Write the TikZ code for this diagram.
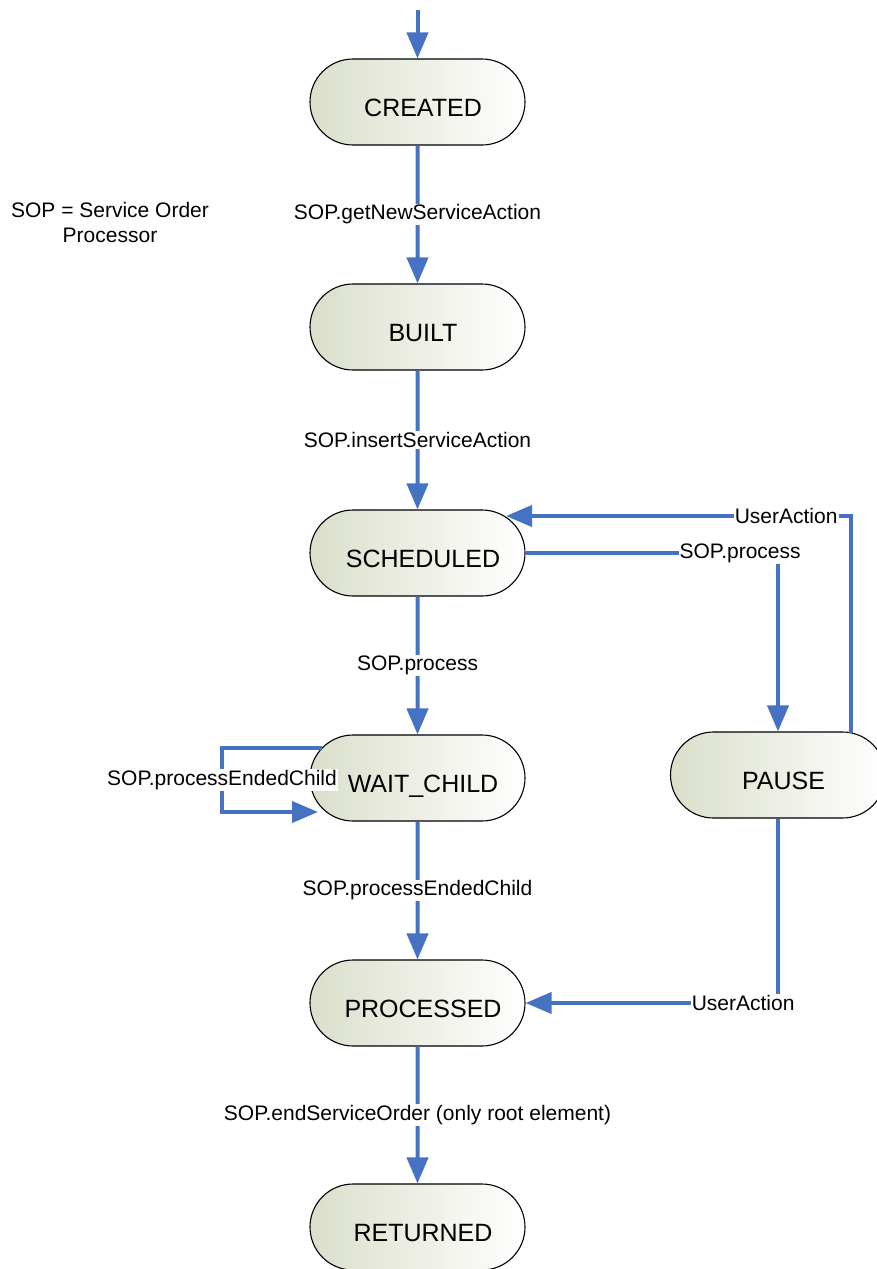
\documentclass[tikz,border=0pt]{standalone}
\usepackage{fontspec}
\setmainfont{Liberation Sans}
\usetikzlibrary{shapes.misc,arrows.meta}
\definecolor{flow}{RGB}{70,114,196}
\definecolor{stateleft}{RGB}{218,223,203}
\tikzset{
  state/.style={rounded rectangle, draw=black, line width=1.1pt,
    minimum width=215pt, minimum height=86pt, inner sep=0pt,
    left color=stateleft, right color=white,
    font=\fontsize{25}{30}\selectfont, text height=28pt, text depth=0pt,
    execute at begin node={\hspace*{11pt}}},
  arr/.style={draw=flow, line width=4pt, -{Triangle[length=26pt,width=21pt]}},
  lbl/.style={fill=white, inner sep=1pt, font=\fontsize{21}{25}\selectfont, text=black}
}
\begin{document}
\begin{tikzpicture}[x=1pt,y=-1pt]
\useasboundingbox (0,0) rectangle (876,1269);

% states
\node[state] (created)   at (417.5,102)  {CREATED};
\node[state] (built)     at (417.5,327)  {BUILT};
\node[state] (scheduled) at (417.5,553)  {SCHEDULED};
\node[state] (waitchild) at (417.5,778)  {WAIT\_CHILD};
\node[state] (processed) at (417.5,1003) {PROCESSED};
\node[state] (returned)  at (417.5,1227) {RETURNED};
\node[state] (pause)     at (778,775)    {PAUSE};

% legend
\node[align=center, font=\fontsize{21}{25}\selectfont] (legend) at (110,222) {SOP = Service Order\\Processor};

% helper coordinates
\coordinate (start) at (417.5,10);
\coordinate (schin) at (506,516);
\coordinate (pauseout) at (851,733);
\coordinate (wcout) at (322,748);
\coordinate (wcin) at (318,812);
\coordinate (loopA) at (222,748);
\coordinate (loopB) at (222,812);

% main chain
\draw[arr] (start) -- (created);
\draw[arr] (created) -- node[lbl] {SOP.getNewServiceAction} (built);
\draw[arr] (built) -- node[lbl] {SOP.insertServiceAction} (scheduled);
\draw[arr] (scheduled) -- node[lbl] {SOP.process} (waitchild);
\draw[arr] (waitchild) -- node[lbl] {SOP.processEndedChild} (processed);
\draw[arr] (processed) -- node[lbl] {SOP.endServiceOrder (only root element)} (returned);

% pause branch
\draw[arr] (scheduled.east) -| node[lbl, pos=0.425] {SOP.process} (pause.north);
\draw[arr] (pauseout) |- node[lbl, pos=0.594] {UserAction} (schin);
\draw[arr] (pause.south) |- node[lbl, pos=0.569] {UserAction} (processed.east);

% self loop
\draw[arr] (wcout) -- (loopA) -- node[lbl] {SOP.processEndedChild} (loopB) -- (wcin);
\end{tikzpicture}
\end{document}
